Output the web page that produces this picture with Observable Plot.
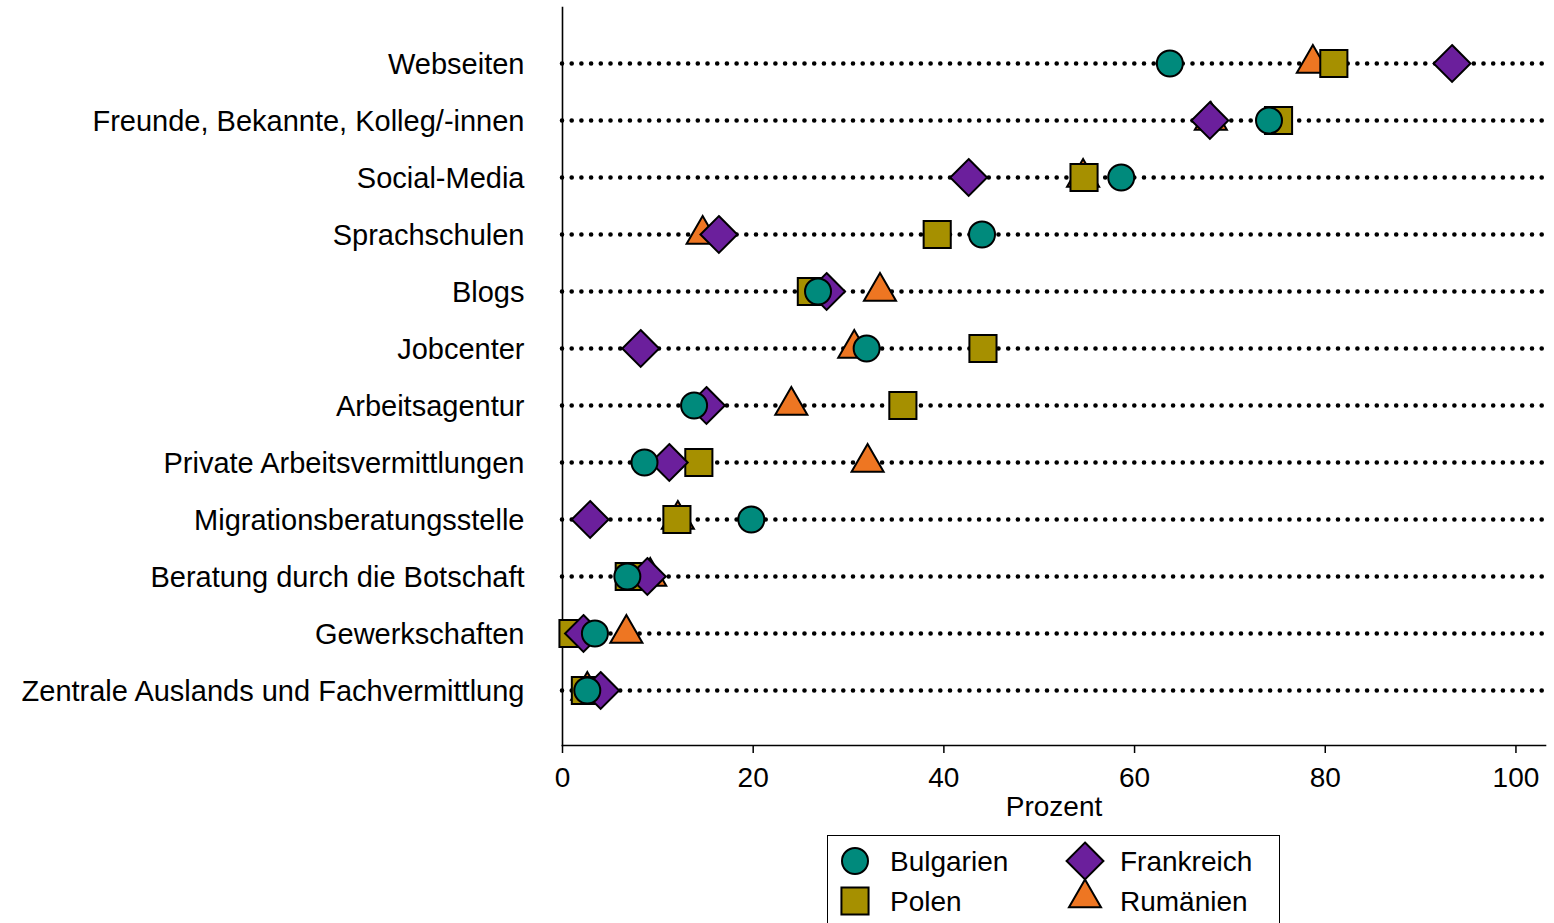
<!DOCTYPE html>
<html><head><meta charset="utf-8">
<script src="https://cdn.jsdelivr.net/npm/d3@7"></script>
<script src="https://cdn.jsdelivr.net/npm/@observablehq/plot@0.6"></script>
<style>
body{margin:0;background:#fff;overflow:hidden;font-family:"Liberation Sans",Arial,sans-serif;}
#legend{position:relative;margin-left:827px;margin-top:5px;width:453px;height:100px;border:1.5px solid #000;box-sizing:border-box;}
.item{position:absolute;font-size:28px;line-height:28px;color:#000;}
.item svg{position:absolute;overflow:visible;}
</style></head><body>
<div id="chart"></div><div id="legend"></div>
<script>
const categories = [
  "Webseiten",
  "Freunde, Bekannte, Kolleg/-innen",
  "Social-Media",
  "Sprachschulen",
  "Blogs",
  "Jobcenter",
  "Arbeitsagentur",
  "Private Arbeitsvermittlungen",
  "Migrationsberatungsstelle",
  "Beratung durch die Botschaft",
  "Gewerkschaften",
  "Zentrale Auslands und Fachvermittlung"
];
const bulgarien  = [63.7, 74.1, 58.6, 44.0, 26.8, 31.9, 13.8, 8.6, 19.8, 6.8, 3.4, 2.6];
const polen      = [80.9, 75.1, 54.7, 39.3, 26.1, 44.1, 35.7, 14.3, 12.0, 7.0, 1.1, 2.4];
const frankreich = [93.3, 67.9, 42.6, 16.4, 27.7, 8.2, 15.1, 11.2, 2.9, 8.9, 2.2, 4.0];
const rumaenien  = [78.7, 68.0, 54.6, 14.7, 33.3, 30.6, 24.0, 32.0, 12.1, 9.2, 6.7, 2.6];
const xTicks = [0, 20, 40, 60, 80, 100];
const seriesLabels = ["Bulgarien", "Frankreich", "Polen", "Rumänien"];

const colors = {Bulgarien:"#008a7c", Polen:"#a69000", Frankreich:"#6b1f9c", Rumänien:"#ee7622"};
const symbols = {Bulgarien:"circle", Polen:"square", Frankreich:"diamond2", Rumänien:"triangle"};
const radii = {Bulgarien:13, Polen:15.3, Frankreich:16.6, Rumänien:11.9};
const d3Symbols = {circle:d3.symbolCircle, square:d3.symbolSquare, diamond2:d3.symbolDiamond2, triangle:d3.symbolTriangle};

const table = vals => categories.map((c, i) => ({cat: c, value: vals[i]}));
const series = {Bulgarien: bulgarien, Polen: polen, Frankreich: frankreich, Rumänien: rumaenien};
const drawOrder = ["Rumänien", "Polen", "Frankreich", "Bulgarien"];
const font = '"Liberation Sans", Arial, sans-serif';

const chart = Plot.plot({
  width: 1554, height: 830,
  marginLeft: 562, marginRight: 9, marginTop: 7, marginBottom: 85,
  style: {fontFamily: font, background: "#fff", color: "#000", overflow: "visible"},
  x: {domain: [0, 103.1]},
  y: {type: "point", domain: categories, padding: 0.965},
  marks: [
    Plot.ruleY(categories, {y: d => d, x1: 0, x2: 103.1, stroke: "#000", strokeWidth: 4.6, strokeDasharray: "0,9.7", strokeLinecap: "round"}),
    Plot.frame({anchor: "left", stroke: "#000", strokeWidth: 1.6}),
    Plot.frame({anchor: "bottom", stroke: "#000", strokeWidth: 1.6}),
    Plot.axisX({ticks: xTicks, tickSize: 8, tickPadding: 14, fontSize: 28, strokeWidth: 1.5, tickFormat: d => String(d), label: "Prozent", labelAnchor: "center", labelArrow: "none", labelOffset: 70}),
    Plot.axisY({tickSize: 0, tickPadding: 38, fontSize: 29, dy: 1, label: null}),
    ...drawOrder.map(name => Plot.dot(table(series[name]), {
      x: "value", y: "cat", symbol: symbols[name], r: radii[name],
      fill: colors[name], stroke: "#000", strokeWidth: 2
    }))
  ]
});
document.getElementById("chart").appendChild(chart);

// Legend
const legend = document.getElementById("legend");
const positions = {Bulgarien:[27,25], Frankreich:[257,25], Polen:[27,65], Rumänien:[257,62]};
seriesLabels.forEach(name => {
  const [cx, cy] = positions[name];
  const div = document.createElement("div");
  div.className = "item";
  div.style.left = "0px"; div.style.top = "0px";
  const r = radii[name];
  const path = d3.symbol().type(d3Symbols[symbols[name]]).size(Math.PI * r * r)();
  div.innerHTML = `<svg width="1" height="1" style="left:${cx}px;top:${cy}px"><path d="${path}" fill="${colors[name]}" stroke="#000" stroke-width="2"/></svg>` +
    `<span style="position:absolute;left:${cx + 35}px;top:${(name==="Rumänien"?65:cy) - 13}px;white-space:nowrap">${name}</span>`;
  legend.appendChild(div);
});
</script>
</body></html>
